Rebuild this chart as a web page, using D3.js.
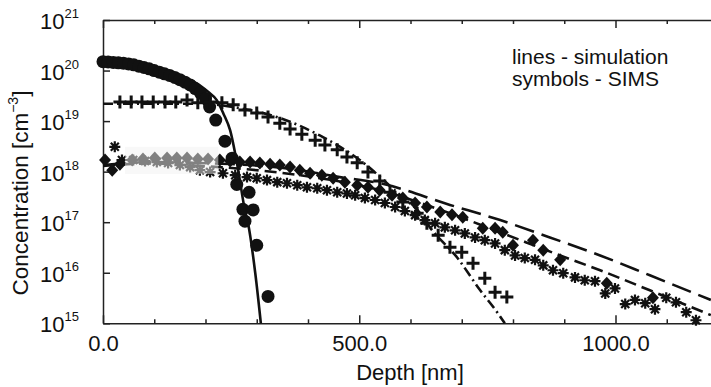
<!DOCTYPE html>
<html>
<head>
<meta charset="utf-8">
<script src="https://cdn.jsdelivr.net/npm/d3@7"></script>
<style>
  body { margin: 0; background: #fff; }
  svg { display: block; font-family: "Liberation Sans", Arial, sans-serif; }
</style>
</head>
<body>
<div id="chart"></div>
<script>
// SIMS measurements, [depth nm, concentration cm^-3]
const circleData = [
  [0, 1.5e20], [10, 1.48e20], [20, 1.45e20], [30, 1.42e20], [40, 1.4e20], [50, 1.35e20],
  [60, 1.3e20], [70, 1.22e20], [80, 1.15e20], [90, 1.08e20], [100, 1.0e20], [110, 9.3e19],
  [120, 8.6e19], [130, 8e19], [140, 7.3e19], [150, 6.6e19], [160, 5.9e19], [170, 5.2e19],
  [180, 4.4e19], [190, 3.6e19], [200, 2.8e19], [208, 1.9e19], [220, 1.05e19], [238, 4e18],
  [252, 1.85e18], [261, 5.6e17], [285, 3.9e17], [273, 1.8e17], [293, 1.75e17], [277, 1.05e17],
  [300, 3.5e16], [322, 3.4e15]
];
const plusData = [
  [33, 2.4e19], [55, 2.4e19], [76, 2.4e19], [98, 2.4e19], [121, 2.4e19], [142, 2.4e19],
  [164, 2.6e19], [185, 2.3e19], [209, 2.4e19], [232, 2.3e19], [254, 2.1e19], [277, 1.65e19],
  [300, 1.45e19], [322, 1.2e19], [345, 9.1e18], [365, 7e18], [388, 5.5e18], [414, 4.2e18],
  [433, 3.35e18], [457, 2.7e18], [476, 1.95e18], [496, 1.5e18], [517, 9.8e17], [540, 6.5e17],
  [560, 3.9e17], [585, 2.5e17], [613, 1.5e17], [632, 9.5e16], [654, 5.5e16], [677, 3.2e16],
  [700, 2.55e16], [722, 1.55e16], [745, 7.8e15], [765, 4.1e15], [788, 3.3e15]
];
const diamondData = [
  [4, 1.7e18], [18, 1.07e18], [33, 1.4e18], [57, 1.7e18], [78, 1.78e18], [101, 1.86e18],
  [125, 1.86e18], [144, 1.86e18], [164, 1.86e18], [185, 1.78e18], [205, 1.78e18], [228, 1.7e18],
  [248, 1.62e18], [267, 1.55e18], [287, 1.55e18], [306, 1.48e18], [326, 1.4e18], [345, 1.35e18],
  [365, 1.23e18], [384, 1.07e18], [404, 9.3e17], [427, 8.5e17], [449, 7.4e17], [472, 6.2e17],
  [496, 5.4e17], [517, 4.9e17], [540, 4.3e17], [564, 3.4e17], [585, 3e17], [609, 2.4e17],
  [632, 2e17], [658, 1.6e17], [681, 1.4e17], [702, 1.26e17], [741, 7.6e16], [765, 7.6e16],
  [780, 6.3e16], [800, 3.5e16], [839, 4.4e16], [859, 2.8e16], [892, 1.8e16], [983, 6.2e15],
  [1073, 3.2e15]
];
const starData = [
  [23, 3.1e18], [37, 1.7e18], [59, 1.7e18], [82, 1.62e18], [105, 1.55e18], [127, 1.48e18],
  [150, 1.35e18], [170, 1.23e18], [189, 1.07e18], [209, 9.8e17], [234, 9.3e17], [258, 8.5e17],
  [281, 7.8e17], [300, 7.4e17], [320, 6.8e17], [340, 6.2e17], [359, 5.9e17], [379, 5.4e17],
  [398, 4.9e17], [418, 4.7e17], [437, 4.3e17], [457, 3.9e17], [476, 3.7e17], [492, 3.4e17],
  [511, 3e17], [531, 2.75e17], [550, 2.4e17], [570, 2e17], [589, 1.66e17], [609, 1.38e17],
  [628, 1.1e17], [648, 9.5e16], [667, 7.9e16], [687, 6.9e16], [706, 6e16], [726, 5e16],
  [745, 4.4e16], [765, 3.8e16], [784, 2.8e16], [804, 2.2e16], [823, 1.95e16], [843, 1.8e16],
  [859, 1.4e16], [878, 1.12e16], [898, 9.8e15], [921, 8.1e15], [940, 7.1e15], [960, 6.8e15],
  [980, 3.9e15], [999, 4.9e15], [1019, 2.4e15], [1038, 2.9e15], [1058, 2.5e15], [1077, 1.9e15],
  [1099, 3.2e15], [1118, 2.6e15], [1138, 1.66e15], [1157, 1.15e15]
];

// simulation curves
const solidLine = [
  [0, 1.6e20], [50, 1.45e20], [100, 1.15e20], [150, 8e19], [190, 5e19], [205, 3.8e19],
  [222, 2.6e19], [235, 1.4e19], [248, 6.6e18], [263, 1.2e18], [277, 1.7e17], [283, 9.5e16],
  [297, 1e16], [308, 1e15]
];
const dashDotLine = [
  [0, 2.2e19], [100, 2.2e19], [189, 2.2e19], [267, 1.8e19], [345, 1.15e19], [423, 5.2e18],
  [501, 1.7e18], [580, 3.4e17], [619, 1.5e17], [638, 7.9e16], [691, 2e16], [736, 4.5e15],
  [769, 1.66e15], [784, 1e15]
];
const longDashLine = [
  [0, 1.35e18], [92, 1.55e18], [189, 1.48e18], [287, 1.35e18], [384, 1.07e18], [462, 7.8e17],
  [540, 5.9e17], [677, 2.2e17], [775, 1.1e17], [872, 5e16], [970, 2.2e16], [1067, 8.9e15],
  [1186, 2.9e15]
];
const midDashLine = [
  [0, 1.3e18], [92, 1.45e18], [189, 1.3e18], [287, 1.1e18], [384, 8.5e17], [540, 4.3e17],
  [677, 1.5e17], [775, 6.3e16], [892, 2.2e16], [970, 1.12e16], [1067, 4.5e15], [1186, 1.45e15]
];

const xTicks = d3.range(0, 1201, 100);
const xLabels = [0, 500, 1000];
const yExponents = [15, 16, 17, 18, 19, 20, 21];
const legendLines = ["lines - simulation", "symbols - SIMS"];

const width = 711, height = 387;
const ink = "#111";

const svg = d3.select("#chart").append("svg")
  .attr("width", width)
  .attr("height", height);

const x = d3.scaleLinear().domain([0, 1200]).range([103, 718]);
const y = d3.scaleLog().domain([1e15, 1e21]).range([323.3, 20]);

//frame + ticks
svg.append("g")
  .attr("transform", `translate(0,${y(1e15)})`)
  .call(d3.axisBottom(x).tickValues(xTicks).tickSizeOuter(0).tickSizeInner(-4).tickPadding(12)
    .tickFormat(d => xLabels.includes(d) ? d3.format(".1f")(d) : ""))
  .call(g => g.selectAll(".tick line").filter(d => d % 500 === 0).attr("y2", -8))
  .call(g => g.selectAll(".tick text").attr("font-size", 22).attr("fill", ink).attr("dy", "0.71em"))
  .call(g => g.selectAll("path, line").attr("stroke", "#222").attr("stroke-width", 1.5));

svg.append("g")
  .attr("transform", `translate(0,${y(1e21)})`)
  .call(d3.axisTop(x).tickValues(xTicks).tickSizeOuter(0).tickSizeInner(-4).tickFormat(""))
  .call(g => g.selectAll(".tick line").filter(d => d % 500 === 0).attr("y2", 8))
  .call(g => g.selectAll("path, line").attr("stroke", "#222").attr("stroke-width", 1.5));

svg.append("g")
  .attr("transform", `translate(${x(0)},0)`)
  .call(d3.axisLeft(y).tickValues(yExponents.map(e => Math.pow(10, e))).tickSizeOuter(0).tickSizeInner(-7).tickFormat(""))
  .call(g => g.selectAll("path, line").attr("stroke", "#222").attr("stroke-width", 1.5));

// y tick labels 10^n
const yLab = svg.append("g").attr("fill", ink);
yExponents.forEach(e => {
  const t = yLab.append("text")
    .attr("x", 79)
    .attr("y", y(Math.pow(10, e)) + 9)
    .attr("text-anchor", "end");
  t.append("tspan").attr("font-size", 22).text("10");
  t.append("tspan").attr("font-size", 13).attr("dy", -11).text(e);
});

// axis titles
svg.append("text")
  .attr("x", 410).attr("y", 380)
  .attr("text-anchor", "middle")
  .attr("font-size", 22).attr("fill", ink)
  .text("Depth [nm]");

const yt = svg.append("text")
  .attr("transform", `translate(28,193) rotate(-90)`)
  .attr("text-anchor", "middle")
  .attr("font-size", 22.5).attr("fill", ink);
yt.append("tspan").text("Concentration [cm");
yt.append("tspan").attr("font-size", 14).attr("dy", -10).text("−3");
yt.append("tspan").attr("dy", 10).text("]");

// legend text
svg.append("g")
  .selectAll("text")
  .data(legendLines)
  .join("text")
  .attr("x", 512)
  .attr("y", (_, i) => 64 + i * 22)
  .attr("font-size", 21)
  .attr("fill", ink)
  .text(d => d);

// simulation lines
const line = d3.line().x(d => x(d[0])).y(d => y(d[1])).curve(d3.curveMonotoneX);
const lines = [
  {data: solidLine, dash: null},
  {data: dashDotLine, dash: "10,4,2,4"},
  {data: longDashLine, dash: "20,8"},
  {data: midDashLine, dash: "12,6"}
];
svg.append("g")
  .selectAll("path")
  .data(lines)
  .join("path")
  .attr("d", d => line(d.data))
  .attr("fill", "none")
  .attr("stroke", ink)
  .attr("stroke-width", 2.6)
  .attr("stroke-dasharray", d => d.dash);

// markers
const marks = svg.append("g");

marks.append("g")
  .selectAll("circle")
  .data(circleData)
  .join("circle")
  .attr("cx", d => x(d[0]))
  .attr("cy", d => y(d[1]))
  .attr("r", 6.5)
  .attr("fill", ink);

marks.append("g")
  .selectAll("path")
  .data(plusData)
  .join("path")
  .attr("transform", d => `translate(${x(d[0])},${y(d[1])})`)
  .attr("d", "M-6.5,0H6.5M0,-6.5V6.5")
  .attr("stroke", ink)
  .attr("stroke-width", 3)
  .attr("fill", "none");

marks.append("g")
  .selectAll("path")
  .data(diamondData)
  .join("path")
  .attr("transform", d => `translate(${x(d[0])},${y(d[1])})`)
  .attr("d", "M0,-6.5L6,0L0,6.5L-6,0Z")
  .attr("fill", ink);

marks.append("g")
  .selectAll("path")
  .data(starData)
  .join("path")
  .attr("transform", d => `translate(${x(d[0])},${y(d[1])})`)
  .attr("d", "M-5.5,0H5.5M0,-5.5V5.5M-4,-4L4,4M-4,4L4,-4")
  .attr("stroke", ink)
  .attr("stroke-width", 2.2)
  .attr("fill", "none");

// faded scan patch near the surface
svg.append("rect")
  .attr("x", x(43)).attr("y", y(3.1e18))
  .attr("width", x(225) - x(43)).attr("height", y(9e17) - y(3.1e18))
  .attr("fill", "#f2f2f2")
  .attr("opacity", 0.5);
</script>
</body>
</html>
